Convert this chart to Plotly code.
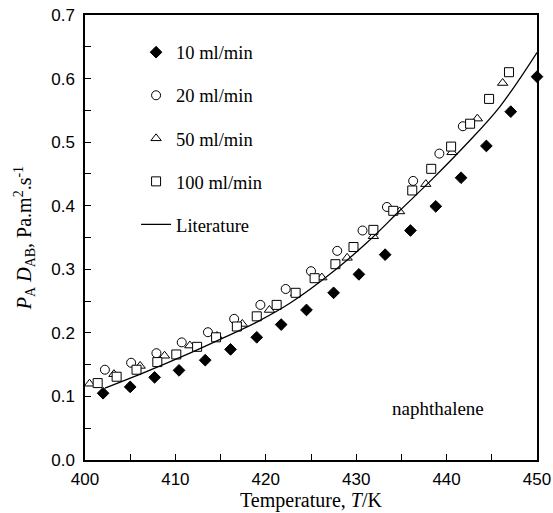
import plotly.graph_objects as go

# 10 ml/min
x10 = [402.0, 405.0, 407.7, 410.4, 413.3, 416.1, 419.0, 421.7, 424.5, 427.5, 430.3, 433.2, 436.0, 438.8, 441.6, 444.4, 447.1, 450.0]
y10 = [0.105, 0.115, 0.130, 0.141, 0.157, 0.174, 0.193, 0.213, 0.236, 0.263, 0.292, 0.323, 0.361, 0.399, 0.444, 0.494, 0.548, 0.603]
# 20 ml/min
x20 = [402.2, 405.1, 407.9, 410.7, 413.6, 416.5, 419.4, 422.2, 425.0, 427.9, 430.7, 433.4, 436.3, 439.2, 441.8]
y20 = [0.142, 0.153, 0.168, 0.185, 0.201, 0.222, 0.244, 0.269, 0.297, 0.329, 0.361, 0.398, 0.439, 0.482, 0.525]
# 50 ml/min
x50 = [400.5, 403.2, 406.1, 408.8, 411.6, 414.6, 417.4, 420.4, 423.3, 426.2, 429.0, 431.9, 434.8, 437.7, 440.6, 443.4, 446.2]
y50 = [0.120, 0.135, 0.148, 0.164, 0.180, 0.195, 0.214, 0.236, 0.262, 0.287, 0.318, 0.352, 0.391, 0.434, 0.484, 0.537, 0.593]
# 100 ml/min
x100 = [401.4, 403.5, 405.7, 408.0, 410.1, 412.4, 414.5, 416.8, 419.0, 421.2, 423.3, 425.4, 427.7, 429.7, 431.9, 434.1, 436.2, 438.3, 440.5, 442.6, 444.7, 446.9]
y100 = [0.121, 0.131, 0.142, 0.154, 0.166, 0.178, 0.193, 0.210, 0.226, 0.244, 0.263, 0.286, 0.308, 0.335, 0.362, 0.392, 0.424, 0.458, 0.493, 0.529, 0.568, 0.610]
# Literature curve
xlit = [402.2, 406.8, 411.6, 415.3, 419.0, 422.7, 427.5, 431.2, 434.8, 438.5, 442.2, 445.9, 450.0]
ylit = [0.113, 0.139, 0.168, 0.192, 0.217, 0.247, 0.297, 0.342, 0.392, 0.443, 0.497, 0.556, 0.641]

SERIF = "Liberation Serif, Times New Roman, serif"
SANS = "Liberation Sans, Arial, sans-serif"
FS = 17

fig = go.Figure()

def mk(symbol, filled):
    return dict(symbol=symbol, size=9,
                color="black" if filled else "white",
                line=dict(color="black", width=1))

fig.add_trace(go.Scatter(x=x10, y=y10, mode="markers", name="10 ml/min",
                         marker=mk("diamond", True), legendgroup="a", cliponaxis=False))
fig.add_trace(go.Scatter(x=x20, y=y20, mode="markers", name="20 ml/min",
                         marker=mk("circle", False), legendgroup="b", cliponaxis=False))
fig.add_trace(go.Scatter(x=x50, y=y50, mode="markers", name="50 ml/min",
                         marker=mk("triangle-up", False), legendgroup="c", cliponaxis=False))
fig.add_trace(go.Scatter(x=x100, y=y100, mode="markers", name="100 ml/min",
                         marker=mk("square", False), legendgroup="d", cliponaxis=False))
fig.add_trace(go.Scatter(x=xlit, y=ylit, mode="lines", name="Literature",
                         line=dict(color="black", width=1.3, shape="spline"), legendgroup="e"))

fig.add_annotation(x=439.1, y=0.081, text="naphthalene", showarrow=False,
                   font=dict(family=SERIF, size=19, color="black"))
# x-axis title
fig.add_annotation(x=0.5, y=-0.091, xref="paper", yref="paper", yanchor="middle",
                   text="Temperature, <i>T</i>/K", showarrow=False,
                   font=dict(family=SERIF, size=20, color="black"))

fig.update_layout(
    width=553, height=513,
    margin=dict(l=85, r=16, t=15, b=53),
    paper_bgcolor="white", plot_bgcolor="white",
    showlegend=True,
    legend=dict(x=0.113, y=0.958, xanchor="left", yanchor="top",
                font=dict(family=SERIF, size=18.5, color="black"),
                bgcolor="rgba(0,0,0,0)", traceorder="grouped", tracegroupgap=16),
    xaxis=dict(range=[400, 450], dtick=10, tick0=400, automargin=False,
               ticks="inside", ticklen=6, tickwidth=1.2, tickcolor="black",
               minor=dict(dtick=5, ticks="inside", ticklen=6, tickwidth=1.2, tickcolor="black"),
               showline=True, linecolor="black", linewidth=1.5, mirror=True,
               showgrid=False, zeroline=False, ticklabelstandoff=3,
               tickfont=dict(family=SANS, size=FS, color="black")),
    yaxis=dict(range=[0, 0.7], dtick=0.1, tick0=0, tickformat=".1f", automargin=False,
               ticks="inside", ticklen=6, tickwidth=1.2, tickcolor="black",
               minor=dict(dtick=0.05, ticks="inside", ticklen=6, tickwidth=1.2, tickcolor="black"),
               showline=True, linecolor="black", linewidth=1.5, mirror=True,
               showgrid=False, zeroline=False, ticklabelstandoff=5,
               tickfont=dict(family=SANS, size=FS, color="black"),
               title=dict(text="<i>P</i><sub>A</sub> <i>D</i><sub>AB</sub>, Pa.m<sup>2</sup>.s<sup>-1</sup>",
                          standoff=14, font=dict(family=SERIF, size=20, color="black"))),
)

fig.write_html("out.html", config={"displayModeBar": False},
               post_script="document.body.style.margin='0';document.body.style.overflow='hidden';")
